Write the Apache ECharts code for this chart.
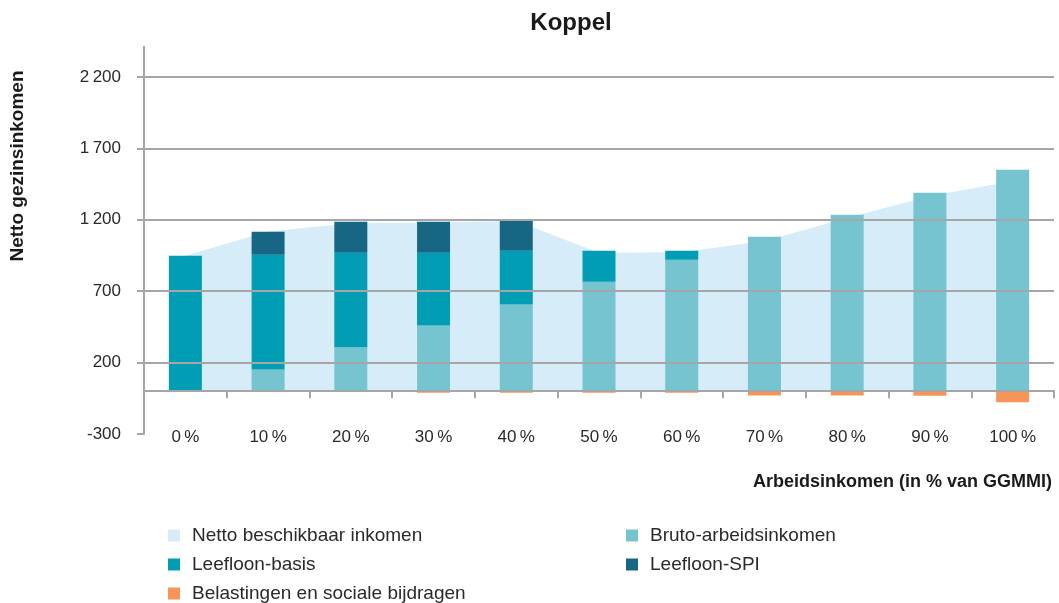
<!DOCTYPE html>
<html>
<head>
<meta charset="utf-8">
<script src="https://cdn.jsdelivr.net/npm/echarts@6/dist/echarts.min.js"></script>
<style>
  html, body { margin: 0; padding: 0; background: #fff; }
  #chart { width: 1059px; height: 603px; }
</style>
</head>
<body>
<div id="chart"></div>
<script>
// categorieen (x-as)
var cats = ['0\u2009%', '10\u2009%', '20\u2009%', '30\u2009%', '40\u2009%', '50\u2009%', '60\u2009%', '70\u2009%', '80\u2009%', '90\u2009%', '100\u2009%'];
// Netto beschikbaar inkomen (vlak)
var netto = [948, 1118, 1175, 1181, 1192, 969, 972, 1052, 1212, 1366, 1470];
// Bruto-arbeidsinkomen
var bruto = [0, 152, 307, 459, 606, 767, 920, 1082, 1236, 1390, 1550];
// Leefloon-basis
var basis = [948, 803, 662, 510, 377, 216, 63, 0, 0, 0, 0];
// Leefloon-SPI
var spi = [0, 161, 217, 217, 210, 0, 0, 0, 0, 0, 0];
// Belastingen en sociale bijdragen (negatief)
var belasting = [0, 0, 0, -12, -12, -12, -12, -30, -30, -32, -77];
// y-as
var yMin = -300, yMax = 2200, yStep = 500;

var names = ['Netto beschikbaar inkomen', 'Bruto-arbeidsinkomen', 'Leefloon-basis', 'Leefloon-SPI', 'Belastingen en sociale bijdragen'];
var kleuren = ['#d6ecf8', '#77c4d1', '#009db4', '#176684', '#f5955a'];
var grijs = '#a6a6a6';
var font = 'Liberation Sans, Arial, sans-serif';

var myChart = echarts.init(document.getElementById('chart'));

function bar(i, data) {
    return {
        name: names[i],
        type: 'bar',
        stack: 'totaal',
        barWidth: 33,
        itemStyle: { color: kleuren[i] },
        data: data
    };
}

function legende(left, data) {
    return {
        orient: 'vertical', left: left, top: 526, padding: 0, height: 80,
        itemWidth: 12, itemHeight: 12, itemGap: 10, icon: 'rect',
        textStyle: { fontSize: 19, lineHeight: 18, color: '#2a2a2a', padding: [0, 0, 0, 7] },
        data: data
    };
}

myChart.setOption({
    animation: false,
    textStyle: { fontFamily: font },
    title: {
        text: 'Koppel',
        left: 566,
        textAlign: 'center',
        top: 6,
        textStyle: { fontSize: 24, fontWeight: 'bold', color: '#1a1a1a', fontFamily: font }
    },
    grid: { left: 144, right: 5, top: 77, bottom: 169 },
    legend: [
        legende(168, [names[0], names[2], names[4]]),
        legende(626, [names[1], names[3]])
    ],
    xAxis: [
        {
            type: 'category',
            data: cats,
            z: 10,
            axisLine: { onZero: true, lineStyle: { color: grijs, width: 2 } },
            axisTick: { show: true, length: 7, lineStyle: { color: grijs, width: 2 } },
            axisLabel: { show: false },
            splitLine: { show: false }
        },
        {
            type: 'category',
            data: cats,
            position: 'bottom',
            axisLine: { show: false, onZero: false },
            axisTick: { show: false },
            axisLabel: { margin: -5, fontSize: 17, color: '#2a2a2a' },
            splitLine: { show: false }
        }
    ],
    yAxis: {
        type: 'value',
        min: yMin, max: yMax, interval: yStep,
        z: 10,
        axisLine: { show: true, lineStyle: { color: grijs, width: 2 } },
        axisTick: { show: true, length: 7, lineStyle: { color: grijs, width: 2 } },
        axisLabel: {
            margin: 23, fontSize: 17, color: '#2a2a2a',
            formatter: function (v) {
                var s = String(Math.abs(v));
                if (s.length > 3) s = s.slice(0, s.length - 3) + '\u2009' + s.slice(-3);
                return (v < 0 ? '-' : '') + s;
            }
        },
        splitLine: {
            show: true,
            lineStyle: { color: ['rgba(0,0,0,0)', grijs, grijs, grijs, grijs, grijs], width: 2 }
        }
    },
    graphic: [
        // verlengstuk van de y-as boven 2200
        { type: 'line', shape: { x1: 144, y1: 46, x2: 144, y2: 77 }, style: { stroke: grijs, lineWidth: 2 }, z: 10 },
        {
            type: 'text', x: 18, y: 166, rotation: Math.PI / 2,
            style: { text: 'Netto gezinsinkomen', font: 'bold 19px ' + font, fill: '#1a1a1a', align: 'center', verticalAlign: 'middle' }
        },
        {
            type: 'text', x: 1052, y: 482,
            style: { text: 'Arbeidsinkomen (in % van GGMMI)', font: 'bold 18px ' + font, fill: '#1a1a1a', align: 'right', verticalAlign: 'middle' }
        }
    ],
    series: [
        {
            name: names[0],
            type: 'line',
            data: netto,
            z: 1,
            symbol: 'none',
            silent: true,
            itemStyle: { color: kleuren[0] },
            lineStyle: { width: 0, color: kleuren[0] },
            areaStyle: { color: kleuren[0], opacity: 1 }
        },
        bar(1, bruto),
        bar(2, basis),
        bar(3, spi),
        bar(4, belasting)
    ]
});
</script>
</body>
</html>
